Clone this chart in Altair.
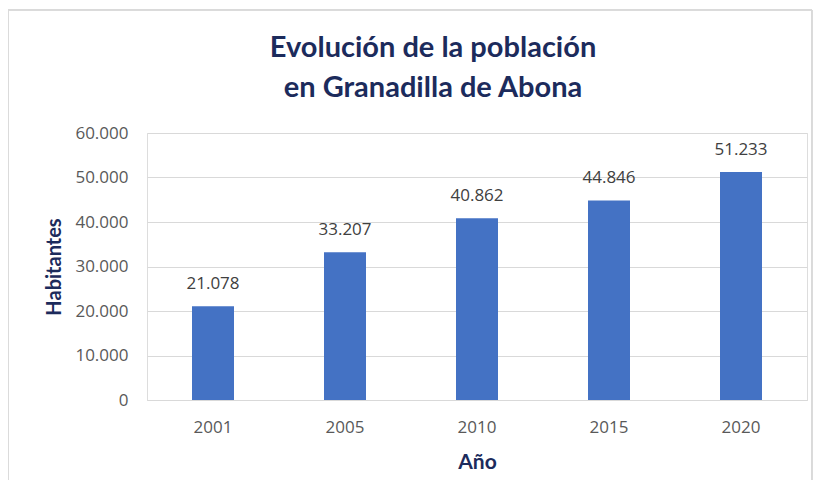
import altair as alt
import pandas as pd

years = ["2001", "2005", "2010", "2015", "2020"]
population = [21078, 33207, 40862, 44846, 51233]
title_lines = ["Evolución de la población", "en Granadilla de Abona"]

df = pd.DataFrame({"year": years, "pop": population})

NAVY = "#1C2B5C"
GRAY = "#595959"

base = alt.Chart(df)

bars = base.mark_bar(size=42, color="#4472C4").encode(
    x=alt.X("year:N", sort=years,
            axis=alt.Axis(title="Año", labelAngle=0, ticks=False, domain=True,
                          domainColor="#D9D9D9", labelColor=GRAY, labelFont="Open Sans",
                          labelFontSize=17, labelPadding=19,
                          titleFont="Lato", titleFontSize=21, titleFontWeight="bold",
                          titleColor=NAVY, titleY=62, titleBaseline="middle")),
    y=alt.Y("pop:Q", scale=alt.Scale(domain=[0, 60000]),
            axis=alt.Axis(title="Habitantes", values=[0, 10000, 20000, 30000, 40000, 50000, 60000],
                          labelExpr="replace(format(datum.value, ','), ',', '.')",
                          ticks=False, domain=False, gridColor="#D9D9D9",
                          labelColor=GRAY, labelFont="Open Sans", labelFontSize=17,
                          labelPadding=19,
                          titleFont="Lato", titleFontSize=20, titleFontWeight="bold",
                          titleColor=NAVY, titleX=-93, titleBaseline="middle")),
)

labels = base.mark_text(font="Open Sans", fontSize=17, color="#404040", baseline="middle", dy=-22).encode(
    x=alt.X("year:N", sort=years),
    y="pop:Q",
    text=alt.Text("label:N"),
).transform_calculate(label="replace(format(datum.pop, ','), ',', '.')")

frame = alt.Chart(df).mark_rect(fill=None, stroke="#D9D9D9", strokeWidth=1).encode(
    x=alt.value(-139), x2=alt.value(665), y=alt.value(-123), y2=alt.value(357)
)

chart = alt.layer(frame, bars, labels).properties(
    width=660, height=267,
    title=alt.TitleParams(text=title_lines, font="Lato", fontSize=29, fontWeight="bold",
                          color=NAVY, anchor="middle", dx=-44, offset=0, dy=93, lineHeight=40),
    autosize=alt.AutoSizeParams(type="none"),
    padding={"left": 139, "top": 125, "right": 7, "bottom": 80},
).configure_view(stroke=None).configure(background="white")

chart.save("out.html", embed_options={"renderer": "svg", "actions": False})
